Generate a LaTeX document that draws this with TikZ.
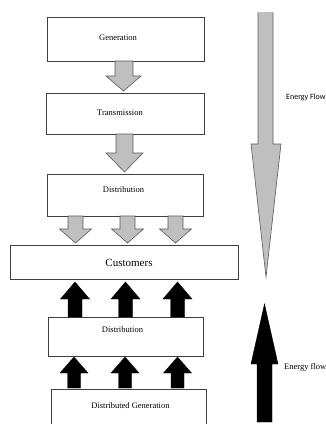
\documentclass[tikz,border=0pt]{standalone}
\usepackage{fontspec}
\setmainfont{Liberation Serif}
\newfontfamily\calib{Carlito}
\begin{document}
\begin{tikzpicture}[x=1pt,y=-1pt,
  box/.style={draw=black!75,line width=0.7pt,fill=white,inner sep=0pt},
  lbl/.style={font=\fontsize{8.5}{10}\selectfont,inner sep=0pt},
  grayarrow/.style={fill=black!25,draw=black!65,line width=0.6pt,line join=miter},
  blackarrow/.style={fill=black,draw=black,line width=0.4pt}]
\useasboundingbox (0,0) rectangle (326,424);
\clip (0,0) rectangle (326,424);
% boxes
\node[box,minimum width=157pt,minimum height=44pt] (gen) at (125.5,39) {};
\node[box,minimum width=158pt,minimum height=41pt] (trans) at (125,113.5) {};
\node[box,minimum width=156pt,minimum height=42pt] (dist) at (125,195) {};
\node[box,minimum width=228pt,minimum height=34pt] (cust) at (124,262) {};
\node[box,minimum width=155pt,minimum height=39pt] (dist2) at (125.5,336.5) {};
\node[box,minimum width=155pt,minimum height=44pt] (dg) at (128.5,411) {};
% labels
\node[lbl] (tgen) at (118,38) {Generation};
\node[lbl] (ttrans) at (120,112.5) {Transmission};
\node[lbl] (tdist) at (123.5,190) {Distribution};
\node[inner sep=0pt,font=\fontsize{11}{13}\selectfont] (tcust) at (129,263) {Customers};
\node[lbl] (tdist2) at (122.5,330) {Distribution};
\node[lbl] (tdg) at (130.5,406) {Distributed Generation};
% grey arrows top
\draw[grayarrow] (115,61) -- (115,76) -- (106,76) -- (123.5,91) -- (141,76) -- (133,76) -- (133,61) -- cycle;
\draw[grayarrow] (116,134) -- (116,153) -- (106,153) -- (124.5,172) -- (143,153) -- (133,153) -- (133,134) -- cycle;
% grey arrows from distribution to customers
\foreach \cx in {75.5,127.5,175.5}{
  \draw[grayarrow] (\cx-7.5,216) -- (\cx-7.5,229) -- (\cx-16,229) -- (\cx,243) -- (\cx+16,229) -- (\cx+7.5,229) -- (\cx+7.5,216) -- cycle;
}
% black arrows distribution2 -> customers
\foreach \cx in {75,125.5,177.5}{
  \fill[blackarrow] (\cx-7,317) -- (\cx-7,299) -- (\cx-14.5,299) -- (\cx,282) -- (\cx+14.5,299) -- (\cx+7,299) -- (\cx+7,317) -- cycle;
}
% black arrows dg -> distribution2
\foreach \cx in {74,125,177.5}{
  \fill[blackarrow] (\cx-6.5,388) -- (\cx-6.5,373) -- (\cx-14,373) -- (\cx,357) -- (\cx+14,373) -- (\cx+6.5,373) -- (\cx+6.5,388) -- cycle;
}
% big grey arrow
\draw[grayarrow] (258,12) -- (258,144) -- (251,144) -- (266,277) -- (281,144) -- (273,144) -- (273,12);
\fill[black!25] (258.3,12) rectangle (272.7,13);
% big black arrow
\fill[blackarrow] (257,422) -- (257,364) -- (251,364) -- (264.5,304) -- (278,364) -- (272,364) -- (272,422) -- cycle;
% labels
\node[anchor=west,inner sep=0pt,font=\calib\fontsize{8}{9}\selectfont] (ef1) at (286,97) {Energy Flow};
\node[anchor=west,inner sep=0pt,font=\fontsize{8.5}{10}\selectfont] (ef2) at (284,367) {Energy flow};
\end{tikzpicture}
\end{document}
